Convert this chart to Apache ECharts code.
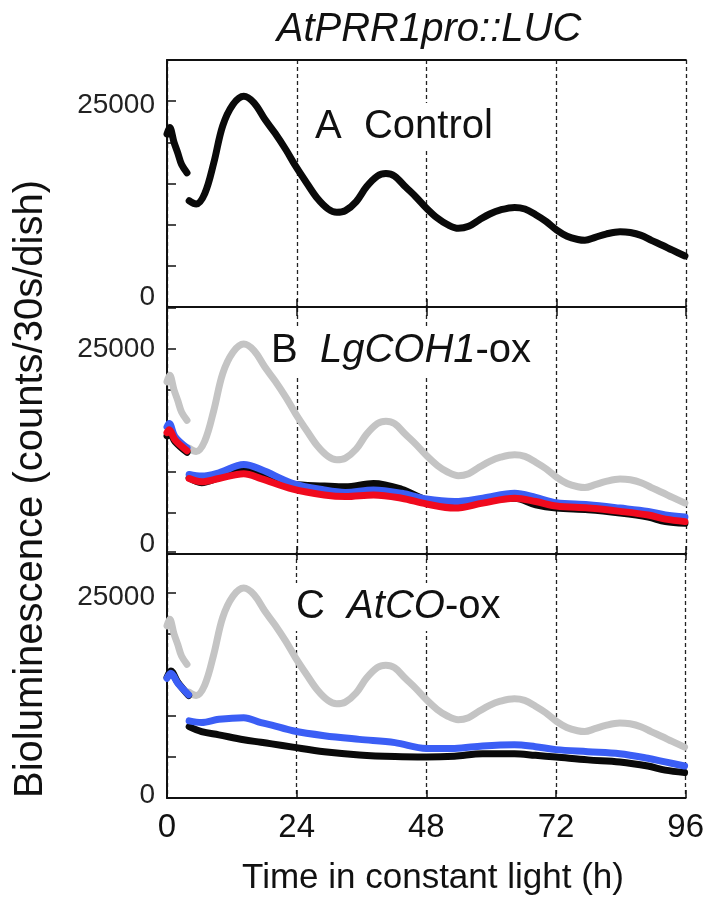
<!DOCTYPE html>
<html>
<head>
<meta charset="utf-8">
<script src="https://cdn.jsdelivr.net/npm/echarts@6/dist/echarts.min.js"></script>
<style>html,body{margin:0;padding:0;background:#fff}#c{width:707px;height:901px}</style>
</head>
<body>
<div id="c"></div>
<script>
// ---------- data (hours, counts/30s/dish) ----------
const xTicks = [0, 24, 48, 72, 96];
const yTickLabels = [0, 25000];

// Control (panel A; grey reference in B and C)
const ctrlT1 = [0, 0.5, 1.3, 2, 2.7, 3.7];
const ctrlV1 = [21000, 21800, 20000, 18700, 17300, 16300];
const ctrlT2 = [4.1, 5.4, 7.0, 8.65, 10.3, 12.2, 14.2, 16.1, 18.1, 20.0, 22.0, 23.8, 25.9, 27.8, 29.8, 31.4, 33.0, 35.0, 36.9, 38.9, 40.5, 42.1, 44.1, 46.0, 48.0, 50.0, 51.9, 53.9, 55.8, 57.8, 59.7, 61.7, 64.3, 66.2, 68.2, 70.1, 72.1, 74.0, 76.0, 77.3, 79.2, 81.2, 83.8, 85.7, 87.7, 89.6, 91.6, 93.5, 95.8];
const ctrlV2 = [12900, 12500, 13800, 17500, 22000, 24600, 25600, 24800, 22800, 21100, 19100, 17100, 15000, 13200, 11900, 11500, 11700, 12800, 14600, 15900, 16200, 15900, 14600, 13400, 12000, 10800, 10000, 9550, 9800, 10600, 11300, 11800, 12100, 11900, 11200, 10400, 9350, 8600, 8200, 8100, 8450, 8860, 9150, 9050, 8700, 8100, 7500, 6900, 6200];

// Panel B: LgCOH1-ox
const bT1 = [0, 0.4, 1.5, 3.7];
const bBlack1 = [14400, 14900, 13700, 12400];
const bBlue1 = [15500, 15900, 14300, 12950];
const bRed1 = [14800, 15150, 13900, 12600];
const bT2 = [4.1, 6.4, 9.6, 14.2, 17.4, 23.3, 29.1, 33.0, 38.2, 43.4, 48.0, 53.2, 58.4, 64.3, 68.2, 72.0, 77.9, 83.8, 89.0, 92.2, 95.8];
const bBlack2 = [9300, 8700, 9300, 10200, 9700, 8500, 8300, 8200, 8600, 7900, 6600, 6200, 6600, 6800, 6000, 5600, 5400, 5000, 4500, 3950, 3750];
const bBlue2 = [9700, 9500, 9900, 10900, 10300, 8600, 7800, 7500, 7800, 7400, 6700, 6400, 6800, 7400, 6900, 6250, 6000, 5600, 5200, 4750, 4500];
const bRed2 = [9200, 8800, 9200, 9800, 9200, 7900, 7200, 7000, 7200, 6800, 6100, 5600, 6200, 6800, 6400, 5850, 5600, 5200, 4750, 4250, 3950];

// Panel C: AtCO-ox
const cT1 = [0, 0.7, 2, 4.0];
const cBlack1 = [14700, 15500, 14100, 12500];
const cBlue1 = [14600, 15200, 14000, 12600];
const cT2 = [4.1, 6.4, 9.6, 14.2, 17.4, 19.4, 23.3, 29.1, 35.6, 42.2, 48.0, 53.2, 58.4, 64.3, 68.2, 72.0, 77.9, 83.8, 89.0, 92.2, 95.8];
const cBlack2 = [8700, 8100, 7700, 7100, 6800, 6600, 6200, 5650, 5250, 5050, 5000, 5100, 5400, 5400, 5200, 5000, 4650, 4400, 3900, 3400, 3100];
const cBlue2 = [9400, 9200, 9600, 9800, 9200, 8900, 8200, 7600, 7150, 6750, 6050, 6050, 6350, 6500, 6260, 5900, 5650, 5400, 4850, 4400, 3900];

// ---------- build ----------
const FF = '"Liberation Sans", Arial, sans-serif';
function seg(t1, v1, t2, v2) {
  const d = t1.map((t, i) => [t, v1[i]]);
  d.push([(t1[t1.length - 1] + t2[0]) / 2, '-']);
  t2.forEach((t, i) => d.push([t, v2[i]]));
  return d;
}
const ctrl = seg(ctrlT1, ctrlV1, ctrlT2, ctrlV2);

const grids = [
  { left: 167, right: 21, top: 60, height: 247 },
  { left: 167, right: 21, top: 308, height: 246 },
  { left: 167, right: 21, top: 552, height: 246 }
];

const xAxes = [], yAxes = [];
grids.forEach((g, gi) => {
  xAxes.push({
    type: 'value', gridIndex: gi, min: 0, max: 96, interval: 24, position: 'bottom',
    axisLine: { show: true, onZero: false, lineStyle: { color: '#111', width: 2 } },
    axisTick: { show: true, inside: true, length: 8, lineStyle: { color: '#111', width: 1.5 } },
    axisLabel: {
      show: gi === 2, fontFamily: FF, fontSize: 33, color: '#111', margin: 13,
      formatter: v => (xTicks.indexOf(v) >= 0 ? String(v) : '')
    },
    splitLine: { show: true, lineStyle: { color: '#222', width: 1.3, type: [4, 3] } }
  });
  xAxes.push({
    type: 'value', gridIndex: gi, min: 0, max: 96, interval: 24, position: 'top',
    axisLine: { show: gi === 0, onZero: false, lineStyle: { color: '#111', width: 1.8 } },
    axisTick: { show: gi > 0, inside: true, length: 8, lineStyle: { color: '#111', width: 1.5 } },
    axisLabel: { show: false }, splitLine: { show: false }
  });
  const pad0 = gi === 2 ? [0, 0, 6, 0] : [0, 0, 20, 0];
  const pad25 = gi === 1 ? [0, 0, 0, 0] : [8, 0, 0, 0];
  yAxes.push({
    type: 'value', gridIndex: gi, min: 0, max: 30000, interval: 5000,
    axisLine: { show: true, onZero: false, lineStyle: { color: '#111', width: 2 } },
    axisTick: { show: true, inside: true, length: 9, lineStyle: { color: '#111', width: 1.5 } },
    splitLine: { show: false },
    axisLabel: {
      fontFamily: FF, fontSize: 28, color: '#222', margin: 12,
      formatter: v => (v === yTickLabels[0] ? '{z|0}' : v === yTickLabels[1] ? '{t|25000}' : ''),
      rich: {
        z: { fontFamily: FF, fontSize: 28, color: '#222', padding: pad0 },
        t: { fontFamily: FF, fontSize: 28, color: '#222', padding: pad25 }
      }
    }
  });
});

function line(data, color, gi, z) {
  return {
    type: 'line', data: data, xAxisIndex: gi * 2, yAxisIndex: gi,
    showSymbol: false, symbol: 'none', smooth: 0.35, connectNulls: false, z: z,
    lineStyle: { color: color, width: 7, cap: 'round', join: 'round' },
    silent: true, animation: false
  };
}
const BLACK = '#0a0a0a', GREY = '#c4c4c4', BLUE = '#3b5ef5', RED = '#f00a1e';

const series = [
  line(ctrl, BLACK, 0, 3),
  line(ctrl, GREY, 1, 2),
  line(seg(bT1, bBlack1, bT2, bBlack2), BLACK, 1, 3),
  line(seg(bT1, bBlue1, bT2, bBlue2), BLUE, 1, 4),
  line(seg(bT1, bRed1, bT2, bRed2), RED, 1, 5),
  line(ctrl, GREY, 2, 2),
  line(seg(cT1, cBlack1, cT2, cBlack2), BLACK, 2, 3),
  line(seg(cT1, cBlue1, cT2, cBlue2), BLUE, 2, 4)
];

function label(x, y, parts) {
  return {
    type: 'text', x: x, y: y, z: 1,
    style: {
      text: parts, fontFamily: FF, fontSize: 40, fill: '#111',
      align: 'left', verticalAlign: 'middle', backgroundColor: '#fff', padding: [4, 2],
      rich: {
        n: { fontFamily: FF, fontSize: 40, fill: '#111', color: '#111' },
        i: { fontFamily: FF, fontSize: 40, fontStyle: 'italic', fill: '#111', color: '#111' }
      }
    }
  };
}

const option = {
  backgroundColor: '#fff',
  animation: false,
  grid: grids,
  xAxis: xAxes,
  yAxis: yAxes,
  series: series,
  graphic: [
    { type: 'text', x: 429, y: 30, z: 1,
      style: { text: 'AtPRR1pro::LUC', fontFamily: FF, fontSize: 40, fontStyle: 'italic', fill: '#111', align: 'center', verticalAlign: 'middle' } },
    label(313, 127, '{n|A  Control}'),
    label(269, 351, '{n|B  }{i|LgCOH1}{n|-ox}'),
    label(294, 607, '{n|C  }{i|AtCO}{n|-ox}'),
    { type: 'text', x: 433, y: 878, z: 1,
      style: { text: 'Time in constant light (h)', fontFamily: FF, fontSize: 35, fill: '#111', align: 'center', verticalAlign: 'middle' } },
    { type: 'text', x: 31, y: 489, rotation: Math.PI / 2, z: 1,
      style: { text: 'Bioluminescence (counts/30s/dish)', fontFamily: FF, fontSize: 40, fill: '#111', align: 'center', verticalAlign: 'middle' } }
  ]
};
const chart = echarts.init(document.getElementById('c'), null, { renderer: 'canvas' });
chart.setOption(option);
</script>
</body>
</html>
